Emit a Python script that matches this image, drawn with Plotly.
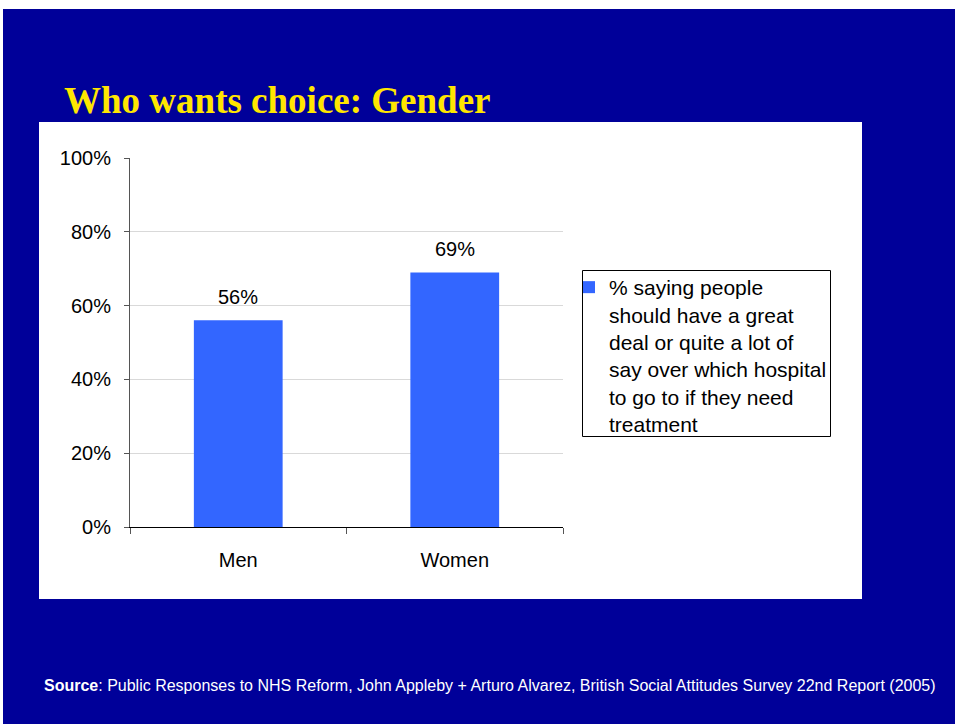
import plotly.graph_objects as go

# Survey result by gender
categories = ["Men", "Women"]
values = [0.56, 0.69]
value_labels = ["56%", "69%"]
series_name = ("% saying people<br>should have a great<br>deal or quite a lot of<br>"
               "say over which hospital<br>to go to if they need<br>treatment")
y_ticks = [0, 0.2, 0.4, 0.6, 0.8, 1.0]
y_tick_labels = ["0%", "20%", "40%", "60%", "80%", "100%"]

W, H = 957, 724
SANS = "Arial, Liberation Sans, sans-serif"
SERIF = "Times New Roman, Liberation Serif, serif"
NAVY = "#000099"
BAR = "#3366FF"


def px_x(x):
    return x / W


def px_y(y):
    return 1 - y / H


fig = go.Figure()
fig.add_trace(go.Bar(
    x=categories, y=values, name=series_name,
    marker=dict(color=BAR, line=dict(width=0)),
    width=0.41, showlegend=True,
))

for c, v, t in zip(categories, values, value_labels):
    fig.add_annotation(x=c, y=v, xref="x", yref="y", text=t, showarrow=False,
                       yanchor="bottom", yshift=10,
                       font=dict(family=SANS, size=20, color="black"))

shapes = [
    # slide background
    dict(type="rect", xref="paper", yref="paper", x0=px_x(3), x1=px_x(955),
         y0=0, y1=px_y(9), fillcolor=NAVY, line=dict(width=0), layer="below"),
    # chart panel
    dict(type="rect", xref="paper", yref="paper", x0=px_x(39), x1=px_x(862),
         y0=px_y(599), y1=px_y(122), fillcolor="white", line=dict(width=0), layer="below"),
    # legend frame
    dict(type="rect", xref="paper", yref="paper", x0=px_x(582.5), x1=px_x(830.5),
         y0=px_y(436.5), y1=px_y(270.5), fillcolor="rgba(0,0,0,0)",
         line=dict(color="black", width=1), layer="above"),
]

annotations = [
    dict(x=px_x(62), y=px_y(123), xref="paper", yref="paper", xanchor="left", yanchor="bottom",
         text="<b>Who wants choice: Gender</b>", showarrow=False,
         font=dict(family=SERIF, size=37, color="#FFE600")),
    dict(x=px_x(42), y=px_y(685), xref="paper", yref="paper", xanchor="left", yanchor="middle",
         text="<b>Source</b>: Public Responses to NHS Reform, John Appleby + Arturo Alvarez, "
              "British Social Attitudes Survey 22nd Report (2005)",
         showarrow=False, font=dict(family=SANS, size=16, color="white")),
]

fig.update_layout(
    width=W, height=H,
    margin=dict(l=0, r=0, t=0, b=0, autoexpand=False),
    paper_bgcolor="white",
    plot_bgcolor="rgba(0,0,0,0)",
    shapes=shapes,
    annotations=list(fig.layout.annotations) + annotations,
    showlegend=True,
    legend=dict(
        x=px_x(569), y=px_y(267), xanchor="left", yanchor="top",
        bgcolor="rgba(0,0,0,0)", borderwidth=0, valign="top",
        font=dict(family=SANS, size=21, color="black"),
    ),
    xaxis=dict(
        domain=[px_x(130), px_x(563)],
        range=[-0.5, 1.5], type="category",
        showline=True, linecolor="black", linewidth=1,
        ticks="outside", ticklen=6, tickcolor="#555555", tickson="boundaries",
        showgrid=False, ticklabelstandoff=15,
        tickfont=dict(family=SANS, size=20, color="black"),
        fixedrange=True,
    ),
    yaxis=dict(
        domain=[px_y(527), px_y(158)],
        range=[0, 1],
        tickvals=y_ticks, ticktext=y_tick_labels,
        showline=True, linecolor="#555555", linewidth=1,
        ticks="outside", ticklen=5, tickcolor="#555555",
        showgrid=True, gridcolor="#D9D9D9", gridwidth=1,
        zeroline=False, ticklabelstandoff=9,
        tickfont=dict(family=SANS, size=20, color="black"),
        fixedrange=True,
    ),
)

fig.write_html("out.html")
